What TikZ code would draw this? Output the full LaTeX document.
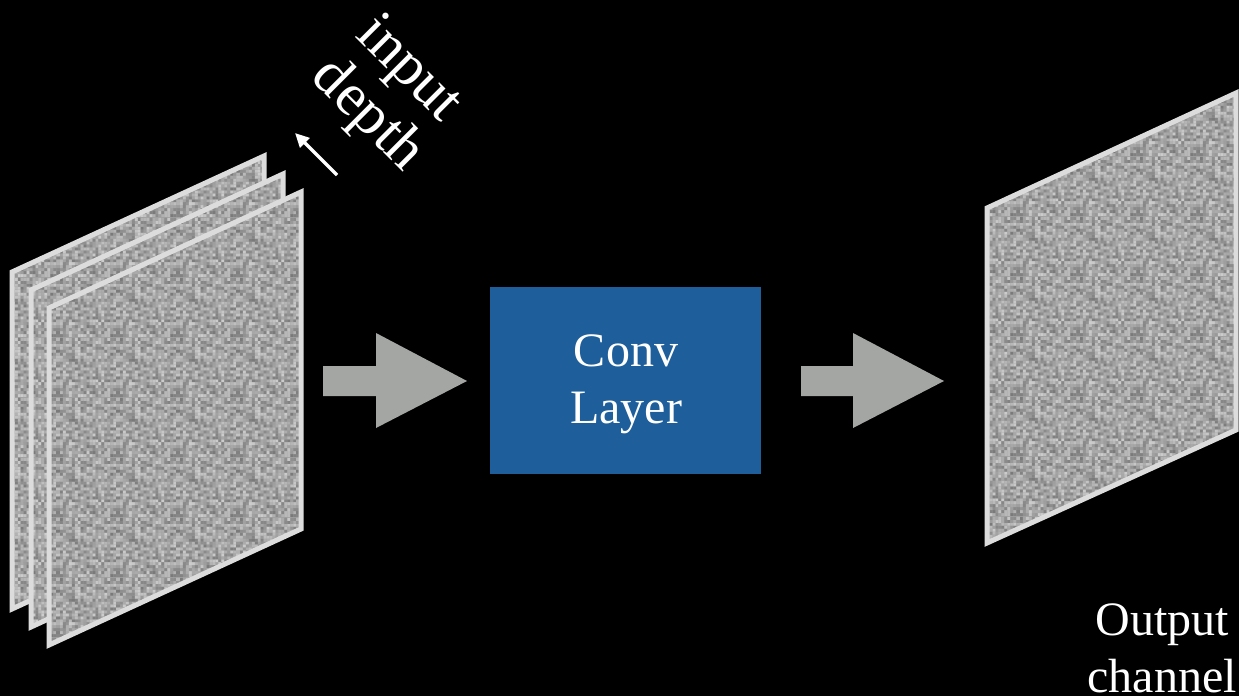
\documentclass[tikz,border=0pt]{standalone}
\usepackage{fontspec}
\setmainfont{Liberation Serif}
\usetikzlibrary{arrows.meta,patterns}
\definecolor{panelfill}{HTML}{A0A0A0}
\definecolor{paneledge}{HTML}{DCDCDC}
\definecolor{arrowgray}{HTML}{A3A6A3}
\definecolor{convblue}{HTML}{1E5E9B}
\pgfdeclarepatterninherentlycolored{noisetile}{\pgfpointorigin}{\pgfpoint{60pt}{60pt}}{\pgfpoint{60pt}{60pt}}{%
  \pgfmathsetseed{7}%
  \foreach \i in {0,...,19}{%
    \foreach \j in {0,...,19}{%
      \pgfmathsetmacro\gval{int(random(48,80))}%
      \pgfsetfillcolor{white!\gval!black}%
      \pgfpathrectangle{\pgfpoint{3*\i pt}{3*\j pt}}{\pgfpoint{3pt}{3pt}}%
      \pgfusepath{fill}%
    }%
  }%
}
\tikzset{
  panel/.style={preaction={fill=panelfill}, pattern=noisetile, draw=paneledge, line width=5pt, line join=miter},
  blockarrow/.style={fill=arrowgray, draw=none},
  bigtext/.style={text=white, font=\fontsize{48}{57}\selectfont, align=center, inner sep=0pt},
  slanttext/.style={text=white, font=\fontsize{60}{60}\selectfont, inner sep=0pt, anchor=base, rotate=-45},
}
\begin{document}
\begin{tikzpicture}[x=1pt,y=-1pt]
\useasboundingbox (0,0) rectangle (1239,696);
\fill[black] (0,0) rectangle (1239,696);
% input stack
\foreach \dx/\dy in {0/0,19/18,37/36}{
  \draw[panel] (12+\dx,272+\dy) -- (264+\dx,156+\dy) -- (264+\dx,493+\dy) -- (12+\dx,609+\dy) -- cycle;
}
% output panel
\draw[panel] (987,208) -- (1236,93) -- (1236,430) -- (987,543) -- cycle;
% block arrows
\fill[blockarrow] (323,366) -- (376,366) -- (376,333) -- (467,381) -- (376,428) -- (376,396) -- (323,396) -- cycle;
\fill[blockarrow] (801,366) -- (853,366) -- (853,333) -- (944,381) -- (853,428) -- (853,396) -- (801,396) -- cycle;
% conv layer
\node[fill=convblue, minimum width=271pt, minimum height=187pt, inner sep=0pt] (conv) at (625.5,380.5) {};
\node[bigtext] (convtext) at (626,384) {Conv\\Layer};
% labels
\node[slanttext] (inputlbl) at (398,80) {input};
\node[slanttext] (depthlbl) at (357,126) {depth};
\coordinate (da) at (337,175);
\coordinate (db) at (295,133);
\draw[white, line width=3.5pt, -{Triangle[length=14pt,width=13pt]}] (da) -- (db);
\node[bigtext] (out) at (1162,648) {Output\\channel};
\end{tikzpicture}
\end{document}
